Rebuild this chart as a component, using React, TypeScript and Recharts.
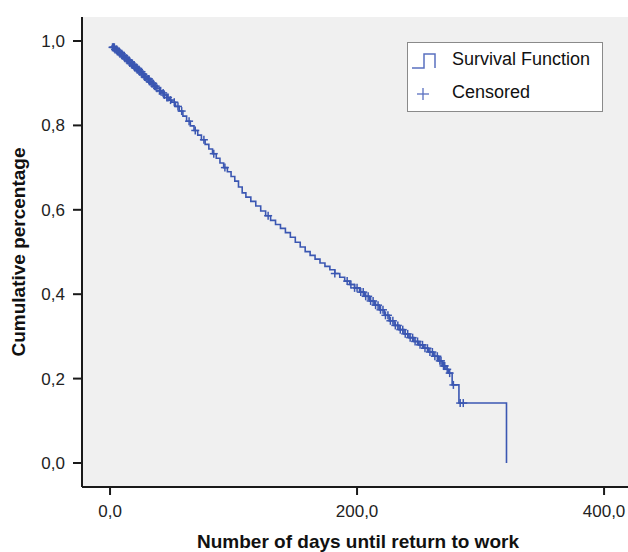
import {
  ComposedChart,
  Line,
  Scatter,
  XAxis,
  YAxis,
  CartesianGrid,
  Legend,
} from "recharts";

// Kaplan-Meier step points: event day and survival after it
const EVENT_DAYS = [
  1, 2, 4, 6, 8, 10, 12, 14, 16, 18, 20, 22, 24, 26, 28, 30, 32, 34, 36, 38,
  40, 42, 44, 46, 48, 50, 53, 56, 59, 62, 65, 68, 71, 74, 77, 80, 83, 86, 89,
  92, 95, 98, 101, 104, 107, 110, 114, 118, 122, 126, 130, 134, 138, 142, 146,
  150, 154, 158, 162, 166, 170, 174, 178, 182, 186, 190, 194, 198, 202, 206,
  210, 214, 218, 222, 226, 230, 234, 238, 242, 246, 250, 254, 258, 262, 266,
  269, 272, 274, 277, 282.5, 321,
];
const SURVIVAL = [
  0.988, 0.985, 0.98, 0.975, 0.97, 0.965, 0.959, 0.954, 0.948, 0.943, 0.937,
  0.932, 0.927, 0.921, 0.915, 0.91, 0.904, 0.899, 0.893, 0.888, 0.882, 0.877,
  0.872, 0.866, 0.86, 0.855, 0.845, 0.834, 0.822, 0.81, 0.799, 0.788, 0.777,
  0.766, 0.755, 0.744, 0.733, 0.722, 0.711, 0.7, 0.69, 0.679, 0.668, 0.654,
  0.64, 0.63, 0.62, 0.609, 0.597, 0.586, 0.575, 0.565, 0.556, 0.546, 0.535,
  0.523, 0.512, 0.501, 0.492, 0.483, 0.474, 0.466, 0.458, 0.449, 0.44, 0.431,
  0.423, 0.415, 0.405, 0.395, 0.384, 0.374, 0.363, 0.35, 0.337, 0.326, 0.316,
  0.306, 0.297, 0.288, 0.28, 0.272, 0.263, 0.253, 0.242, 0.23, 0.222, 0.213,
  0.185, 0.142, 0,
];
const CENSORED_DAYS = [
  2, 2.5, 3, 3.5, 4, 5, 5.5, 6, 7, 7.5, 8, 9, 9.5, 10, 11, 11.5, 12, 13, 13.5,
  14, 15, 15.5, 16, 17, 17.5, 18, 19, 19.5, 20, 21, 21.5, 22, 23, 23.5, 24, 25,
  25.5, 26, 27, 28, 28.5, 29, 30, 31, 31.5, 32, 33, 34, 35, 36, 37, 38, 40, 41,
  43, 44, 46, 47, 49, 52, 55, 58, 64, 69, 76, 84, 93, 128, 182, 192, 195, 198,
  200, 203, 205, 207, 209, 211, 213, 215, 217, 219, 221, 223, 225, 227, 229,
  231, 233, 235, 237, 239, 241, 243, 245, 247, 249, 251, 253, 255, 257, 259,
  261, 263, 265, 267, 268, 270, 271, 273, 275, 278, 283.5, 286,
];
const X_TICKS = [0, 200, 400];
const Y_TICKS = [0, 0.2, 0.4, 0.6, 0.8, 1.0];

const BLUE = "#3b57b2";
const FONT = "'Liberation Sans', Arial, sans-serif";

const curve = EVENT_DAYS.map((day, i) => ({ day, s: SURVIVAL[i] }));

// censored marks sit on the curve at the survival value of their day
const survivalAt = (day: number) => {
  let s = 1;
  EVENT_DAYS.forEach((d, i) => {
    if (d <= day) s = SURVIVAL[i];
  });
  return s;
};

const censored = CENSORED_DAYS.map((day) => ({ day, s: survivalAt(day) }));

const fmt = (v: number) => v.toFixed(1).replace(".", ",");

const Cross = (props: any) => {
  const { cx, cy } = props;
  return (
    <g stroke={BLUE} strokeWidth={1.5}>
      <line x1={cx - 4} y1={cy} x2={cx + 4} y2={cy} />
      <line x1={cx} y1={cy - 4} x2={cx} y2={cy + 4} />
    </g>
  );
};

const LegendBox = () => (
  <div
    style={{
      width: 194,
      height: 68,
      background: "#fff",
      border: "1px solid #8a8a8a",
      fontFamily: FONT,
      fontSize: 18,
      color: "#111",
      position: "relative",
    }}
  >
    <svg width={40} height={68} style={{ position: "absolute", left: 0, top: 0 }}>
      <polyline
        points="4,25 16,25 16,11 27,11 27,25"
        fill="none"
        stroke="#5a70c0"
        strokeWidth={1.5}
      />
      <line x1={9} y1={51} x2={21} y2={51} stroke="#5a70c0" strokeWidth={1.3} />
      <line x1={15} y1={45} x2={15} y2={57} stroke="#5a70c0" strokeWidth={1.3} />
    </svg>
    <div style={{ position: "absolute", left: 44, top: 6 }}>Survival Function</div>
    <div style={{ position: "absolute", left: 44, top: 39 }}>Censored</div>
  </div>
);

export default function App() {
  return (
    <div
      style={{
        position: "absolute",
        left: 0,
        top: 0,
        width: 628,
        height: 552,
        overflow: "hidden",
      }}
    >
      <ComposedChart
        width={640}
        height={552}
        margin={{ top: 17, right: 0, bottom: 0, left: 0 }}
      >
        <CartesianGrid fill="#f0f0f0" stroke="none" horizontal={false} vertical={false} />
        <XAxis
          type="number"
          dataKey="day"
          domain={[-22.7, 429.1]}
          allowDataOverflow
          ticks={X_TICKS}
          tickFormatter={fmt}
          height={65}
          tickSize={8}
          tickMargin={10}
          axisLine={{ stroke: "#1a1a1a", strokeWidth: 2 }}
          tickLine={{ stroke: "#1a1a1a", strokeWidth: 2 }}
          tick={{ fill: "#222", fontSize: 17, fontFamily: FONT }}
          label={{
            content: () => (
              <text
                x={358}
                y={548}
                textAnchor="middle"
                fontFamily={FONT}
                fontSize={19}
                fontWeight="bold"
                fill="#111"
              >
                Number of days until return to work
              </text>
            ),
          }}
        />
        <XAxis
          xAxisId="top"
          orientation="top"
          type="number"
          domain={[-22.7, 429.1]}
          allowDataOverflow
          height={0}
          tick={false}
          tickLine={false}
          axisLine={{ stroke: "#1a1a1a", strokeWidth: 2 }}
        />
        <YAxis
          type="number"
          domain={[-0.0569, 1.0569]}
          allowDataOverflow
          ticks={Y_TICKS}
          tickFormatter={fmt}
          width={82}
          tickSize={9}
          tickMargin={8}
          axisLine={{ stroke: "#1a1a1a", strokeWidth: 2 }}
          tickLine={{ stroke: "#1a1a1a", strokeWidth: 2 }}
          tick={{ fill: "#222", fontSize: 17, fontFamily: FONT }}
          label={{
            content: () => (
              <text
                x={25}
                y={252}
                textAnchor="middle"
                transform="rotate(-90 25 252)"
                fontFamily={FONT}
                fontSize={19}
                fontWeight="bold"
                fill="#111"
              >
                Cumulative percentage
              </text>
            ),
          }}
        />
        <Legend
          verticalAlign="middle"
          align="center"
          layout="vertical"
          wrapperStyle={{ left: 407, top: 42, width: 196, height: 70 }}
          content={() => <LegendBox />}
        />
        <Line
          data={curve}
          dataKey="s"
          type="stepAfter"
          stroke={BLUE}
          strokeWidth={1.6}
          dot={false}
          isAnimationActive={false}
        />
        <Scatter
          data={censored}
          dataKey="s"
          shape={Cross}
          isAnimationActive={false}
        />
      </ComposedChart>
    </div>
  );
}
